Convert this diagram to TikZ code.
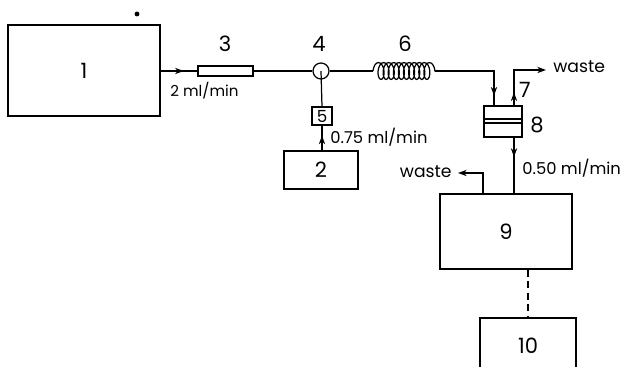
\documentclass[tikz,border=0pt]{standalone}
\usepackage{fontspec}
\setmainfont{Poppins}
\usetikzlibrary{calc,arrows.meta,decorations.markings,decorations.pathmorphing}

\tikzset{
  pipe/.style={line width=0.7pt},
  procbox/.style={draw, pipe, inner sep=0pt, font=\fontsize{12}{14}\selectfont},
  numlabel/.style={inner sep=0pt, font=\fontsize{12}{14}\selectfont},
  ratelabel/.style={inner sep=0pt, anchor=west, font=\fontsize{9.3}{11}\selectfont},
  wastelabel/.style={inner sep=0pt, font=\fontsize{9.8}{12}\selectfont},
  flowmark/.style={postaction={decorate}, decoration={markings,
    mark=at position #1 with {\arrow{Stealth[length=5pt,width=3.6pt]}}}}
}

\begin{document}
\begin{tikzpicture}[x=0.02cm, y=-0.02cm, >={Stealth[length=5pt,width=3.6pt]}]

  % Page frame
  \clip (0,0) rectangle (626,367);

  % Top row
  \node[procbox, minimum width=3.04cm, minimum height=1.82cm] (box1) at (84,70.5) {1};
  \node[circle, fill, inner sep=0pt, minimum size=2.8pt] (speck) at (137,14) {};
  \node[draw, pipe, minimum width=1.1cm, minimum height=0.2cm, inner sep=0pt] (tube3) at (225.5,71) {};
  \node[draw, pipe, circle, minimum size=0.32cm, inner sep=0pt] (valve4) at (321,71) {};
  \coordinate (coil6w) at (373,71);
  \coordinate (coil6e) at (435,71);

  \node[numlabel] (lab3) at (225,44) {3};
  \node[numlabel] (lab4) at (319,44) {4};
  \node[numlabel] (lab6) at (405,44) {6};
  \node[ratelabel, font=\fontsize{8.6}{11}\selectfont] (rate1) at (170,91) {2 ml/min};

  % Lower branch
  \node[procbox, minimum width=1.48cm, minimum height=0.76cm] (box2) at (321,170) {2};
  \node[procbox, minimum width=0.4cm, minimum height=0.36cm, font=\fontsize{9.5}{11}\selectfont] (filter5) at (322,116) {5};
  \node[ratelabel] (rate2) at (330,137) {0.75 ml/min};

  % Dialyser
  \node[draw, pipe, minimum width=0.76cm, minimum height=0.62cm, inner sep=0pt] (dial8) at (503,121.5) {};
  \coordinate (dial8in) at (494,106);
  \coordinate (dial8out) at (514,106);
  \coordinate (dial8low) at (514,137);
  \draw[pipe] (484,119) -- (522,119);
  \draw[pipe] (484,123) -- (522,123);
  \node[numlabel] (lab7) at (525,90) {7};
  \node[numlabel] (lab8) at (537,125) {8};
  \node[wastelabel, anchor=west] (waste1) at (553,67) {waste};
  \coordinate (waste1end) at (546,70);

  % Lower boxes
  \node[procbox, minimum width=2.64cm, minimum height=1.5cm] (box9) at (506,231.5) {9};
  \node[procbox, minimum width=1.92cm, minimum height=1.12cm] (box10) at (528,346) {10};
  \coordinate (box9in) at (514,194);
  \coordinate (box9out) at (483,194);
  \coordinate (waste2end) at (458,173);
  \node[wastelabel, anchor=east] (waste2) at (452,172) {waste};
  \node[ratelabel] (rate3) at (522,168) {0.50 ml/min};

  % Connections
  \draw[pipe, flowmark=0.63] (box1.east |- tube3) -- (tube3);
  \draw[pipe] (tube3) -- (valve4);
  \draw[pipe] (valve4) -- (coil6w);
  \draw[pipe, decorate, decoration={coil, aspect=0.5, segment length=2.9pt, amplitude=4.8pt}] (coil6w) -- (coil6e);
  \draw[pipe] (filter5.north) -- (valve4.center);
  \draw[pipe, flowmark=0.6] (box2.north -| filter5) -- (filter5.south);
  \draw[pipe, flowmark=0.89] (coil6e) -| (dial8in);
  \draw[pipe, ->, flowmark=0.2] (dial8out) |- (waste1end);
  \draw[pipe, flowmark=0.35] (dial8low) -- (box9in);
  \draw[pipe, ->] (box9out) |- (waste2end);
  \draw[pipe, dash pattern=on 4pt off 2.6pt] (box9.south -| box10) -- (box10.north);

\end{tikzpicture}
\end{document}
